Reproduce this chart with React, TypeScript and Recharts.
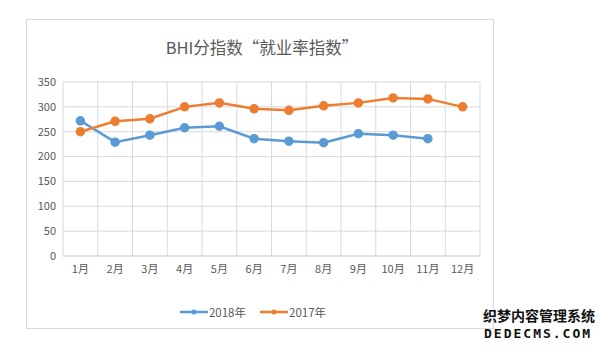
import { LineChart, Line, CartesianGrid, XAxis, YAxis, Legend } from 'recharts';

const months = ['1月', '2月', '3月', '4月', '5月', '6月', '7月', '8月', '9月', '10月', '11月', '12月'];
const y2018 = [272, 229, 243, 258, 261, 236, 231, 228, 246, 243, 236, null];
const y2017 = [250, 271, 276, 300, 308, 296, 293, 302, 308, 318, 316, 300];
const yTicks = [0, 50, 100, 150, 200, 250, 300, 350];

const data = months.map((m, i) => ({ month: m, a: y2018[i], b: y2017[i] }));

const FONT = '"Noto Sans CJK SC", "Noto Sans", sans-serif';
const GRAY = '#595959';
const BLUE = '#5B9BD5';
const ORANGE = '#ED7D31';

const renderLegend = () => (
  <div style={{ display: 'flex', justifyContent: 'center', gap: 14, fontFamily: FONT, fontSize: 11.5, color: GRAY }}>
    {[['2018年', BLUE], ['2017年', ORANGE]].map(([label, color]) => (
      <span key={label} style={{ display: 'flex', alignItems: 'center' }}>
        <svg width={28} height={10} style={{ marginRight: 1 }}>
          <line x1={0} y1={5} x2={28} y2={5} stroke={color} strokeWidth={2.5} />
          <circle cx={14} cy={5} r={2.5} fill={color} />
        </svg>
        {label}
      </span>
    ))}
  </div>
);

export default function App() {
  return (
    <div style={{ position: 'absolute', left: 0, top: 0, width: 600, height: 350, background: '#fff' }}>
      <div style={{ position: 'absolute', left: 26, top: 19, width: 468, height: 310, border: '1px solid #d9d9d9', boxSizing: 'border-box' }} />
      <div style={{ position: 'absolute', left: 28, top: 35, width: 468, textAlign: 'center', fontFamily: FONT, fontSize: 16.5, color: GRAY }}>
        BHI分指数“就业率指数”
      </div>
      <div style={{ position: 'absolute', left: 26, top: 19 }}>
        <LineChart width={468} height={310} data={data} margin={{ top: 63, right: 14, bottom: 10, left: 0 }}>
          <CartesianGrid
            stroke="#d9d9d9"
            verticalCoordinatesGenerator={({ offset }: any) =>
              months.map((_, i) => offset.left + (i * offset.width) / months.length).concat(offset.left + offset.width)
            }
          />
          <XAxis dataKey="month" scale="band" axisLine={{ stroke: '#d9d9d9' }} tickLine={false} tickSize={0} tickMargin={9}
            tick={{ fill: GRAY, fontSize: 11, fontFamily: FONT }} height={30} interval={0} />
          <YAxis domain={[0, 350]} ticks={yTicks} axisLine={false} tickLine={false} tickSize={0} tickMargin={7}
            tick={{ fill: GRAY, fontSize: 11, fontFamily: FONT }} width={37} />
          <Legend content={renderLegend} verticalAlign="bottom" height={33} wrapperStyle={{ top: 285, bottom: 'auto' }} />
          <Line dataKey="a" name="2018年" stroke={BLUE} strokeWidth={2.5} dot={{ r: 3.5, fill: BLUE, stroke: BLUE }} isAnimationActive={false} connectNulls={false} />
          <Line dataKey="b" name="2017年" stroke={ORANGE} strokeWidth={2.5} dot={{ r: 3.5, fill: ORANGE, stroke: ORANGE }} isAnimationActive={false} />
        </LineChart>
      </div>
      <div style={{ position: 'absolute', left: 483, top: 307, fontFamily: FONT, fontWeight: 700, fontSize: 14, color: '#111', lineHeight: '17px', whiteSpace: 'nowrap' }}>
        织梦内容管理系统
      </div>
      <div style={{ position: 'absolute', left: 484, top: 326, fontFamily: '"DejaVu Sans Mono", monospace', fontWeight: 700, fontSize: 13, color: '#111', lineHeight: '16px', letterSpacing: 2, whiteSpace: 'nowrap' }}>
        DEDECMS.COM
      </div>
    </div>
  );
}
